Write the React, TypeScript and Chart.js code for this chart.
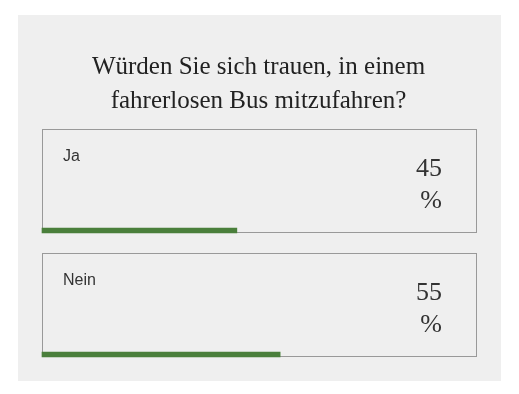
import React, { useEffect, useRef } from "react";
import { Chart, registerables } from "chart.js";

Chart.register(...registerables);

const titleLines = ["Würden Sie sich trauen, in einem", "fahrerlosen Bus mitzufahren?"];
const categories = ["Ja", "Nein"];
const values = [45, 55];
const unit = "%";

const PANEL_BG = "#efefef";
const BORDER = "#999999";
const GREEN = "#4a7f3b";
const TEXT = "#333333";

const pollPlugin = {
  id: "pollBoxes",
  beforeDraw(chart: any) {
    const ctx = chart.ctx;
    ctx.save();
    ctx.fillStyle = "#ffffff";
    ctx.fillRect(0, 0, chart.width, chart.height);
    ctx.fillStyle = PANEL_BG;
    ctx.fillRect(18, 15, 483, 366);
    ctx.restore();
  },
  beforeDatasetsDraw(chart: any) {
    const ctx = chart.ctx;
    const meta = chart.getDatasetMeta(0);
    const area = chart.chartArea;
    const labels = chart.data.labels as string[];
    const data = chart.data.datasets[0].data as number[];
    ctx.save();
    meta.data.forEach((bar: any, i: number) => {
      const top = bar.y - 101.5;
      ctx.strokeStyle = BORDER;
      ctx.lineWidth = 1;
      ctx.strokeRect(area.left + 0.5, top + 0.5, area.right - area.left + 1, 103);
      ctx.fillStyle = TEXT;
      ctx.textBaseline = "alphabetic";
      ctx.textAlign = "left";
      ctx.font = '16px "Liberation Sans", Arial, sans-serif';
      ctx.fillText(labels[i], area.left + 21, top + 32);
      ctx.textAlign = "right";
      ctx.font = '26px "Liberation Serif", serif';
      ctx.fillText(String(data[i]), 442, top + 47);
      ctx.fillText(unit, 442, top + 79);
    });
    ctx.restore();
  },
};

export default function App() {
  const ref = useRef<HTMLCanvasElement | null>(null);
  useEffect(() => {
    document.body.style.margin = "0";
    const canvas = ref.current!;
    const chart = new Chart(canvas, {
      type: "bar",
      data: {
        labels: categories,
        datasets: [
          {
            data: values,
            backgroundColor: GREEN,
            borderWidth: 0,
            barThickness: 5,
            clip: false as any,
          },
        ],
      },
      options: {
        indexAxis: "y",
        responsive: false,
        animation: false,
        devicePixelRatio: 1,
        layout: { padding: { left: 42, right: 44, top: 0, bottom: 39.5 } },
        scales: {
          x: { type: "linear", min: 0, max: 100, display: false },
          y: { type: "category", offset: false, display: false },
        },
        plugins: {
          legend: { display: false },
          tooltip: { enabled: false },
          title: {
            display: true,
            text: titleLines,
            color: "#222222",
            font: { family: '"Liberation Serif", serif', size: 25, weight: "normal", lineHeight: 34 / 25 },
            padding: { top: 50, bottom: 112.5 },
          },
        },
      },
      plugins: [pollPlugin],
    });
    return () => chart.destroy();
  }, []);
  return <canvas ref={ref} width={519} height={394} style={{ display: "block" }} />;
}
